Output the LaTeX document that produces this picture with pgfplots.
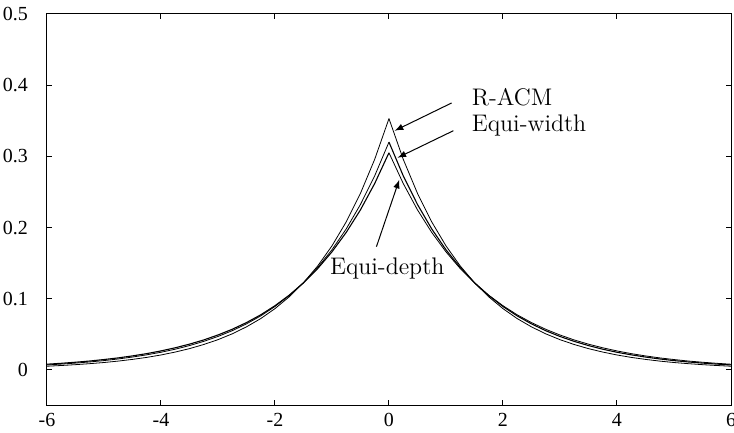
\documentclass[border=0pt]{standalone}
\usepackage{fontspec}
\newfontfamily\tickfont{Liberation Serif}
\usepackage{pgfplots}
\pgfplotsset{compat=1.18}
\usepackage{pgfplotstable}

% right half of each density; the left half is its mirror image
\pgfplotstableread{
x     racm   ewidth  edepth
0.00  0.3530 0.3200  0.3050
0.25  0.2959 0.2727  0.2619
0.50  0.2480 0.2324  0.2248
0.75  0.2079 0.1980  0.1931
1.00  0.1742 0.1687  0.1658
1.25  0.1460 0.1438  0.1423
1.50  0.1224 0.1225  0.1222
1.75  0.1026 0.1044  0.1049
2.00  0.0860 0.0890  0.0901
2.25  0.0720 0.0758  0.0773
2.50  0.0604 0.0646  0.0664
2.75  0.0506 0.0550  0.0570
3.00  0.0424 0.0469  0.0490
3.25  0.0356 0.0400  0.0420
3.50  0.0298 0.0341  0.0361
3.75  0.0250 0.0290  0.0310
4.00  0.0209 0.0247  0.0266
4.25  0.0175 0.0211  0.0228
4.50  0.0147 0.0180  0.0196
4.75  0.0123 0.0153  0.0168
5.00  0.0103 0.0130  0.0145
5.25  0.0087 0.0111  0.0124
5.50  0.0073 0.0095  0.0107
5.75  0.0061 0.0081  0.0092
6.00  0.0051 0.0069  0.0079
}\dens

\begin{document}
\begin{tikzpicture}
\begin{axis}[
    name=ax,
    scale only axis, width=342.5pt, height=196pt,
    xmin=-6, xmax=6, ymin=-0.05, ymax=0.5,
    xtick={-6,-4,...,6}, ytick={0,0.1,...,0.5},
    tick align=inside, major tick length=2.6pt,
    axis line style={line width=0.5pt},
    tick style={line width=0.5pt, black},
    tick label style={font=\tickfont\fontsize{10}{12}\selectfont},
    /pgf/number format/assume math mode=true,
    /pgf/number format/fixed, /pgf/number format/precision=2,
    xticklabel style={yshift=-0.5pt},
    yticklabel style={xshift=-6pt},
    cycle list={{black, solid, line width=0.55pt}},
    every axis plot/.append style={no markers},
]
\addplot table[x=x, y=racm] {\dens};
\addplot table[x expr=-\thisrow{x}, y=racm] {\dens};
\addplot table[x=x, y=ewidth] {\dens};
\addplot table[x expr=-\thisrow{x}, y=ewidth] {\dens};
\addplot table[x=x, y=edepth] {\dens};
\addplot table[x expr=-\thisrow{x}, y=edepth] {\dens};

\node[anchor=west, font=\fontsize{12}{14}\selectfont] at (axis cs:1.33,0.383) {R-ACM};
\node[anchor=west, font=\fontsize{12}{14}\selectfont] at (axis cs:1.33,0.343) {Equi-width};
\node[font=\fontsize{12}{14}\selectfont] at (axis cs:-0.03,0.142) {Equi-depth};
\draw[-latex, line width=0.5pt] (axis cs:1.10,0.375) -- (axis cs:0.10,0.336);
\draw[-latex, line width=0.5pt] (axis cs:1.13,0.336) -- (axis cs:0.15,0.298);
\draw[-latex, line width=0.5pt] (axis cs:-0.22,0.173) -- (axis cs:0.18,0.267);
\end{axis}
\pgfresetboundingbox
\path[use as bounding box] ([shift={(-23.5pt,-13.5pt)}]ax.south west) rectangle ([shift={(1.5pt,7pt)}]ax.north east);
\end{tikzpicture}
\end{document}
